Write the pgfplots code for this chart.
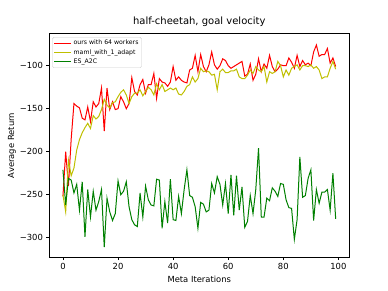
\documentclass[border=0pt]{standalone}
\usepackage{pgfplots}
\pgfplotsset{compat=1.18}
\usepackage{pgfplotstable}
\usepackage{fontspec}
\setmainfont{DejaVu Sans}
\definecolor{mred}{RGB}{255,0,0}
\definecolor{myel}{RGB}{191,191,0}
\definecolor{mgreen}{RGB}{0,128,0}

\pgfplotstableread{
x y
0 -252
1 -200
2 -240
3 -185
4 -144
5 -147
6 -149
7 -161
8 -163
9 -148
10 -165
11 -142
12 -148
13 -144
14 -126
15 -176
16 -126
17 -151
18 -142
19 -151
20 -150
21 -136
22 -142
23 -150
24 -144
25 -114
26 -130
27 -134
28 -122
29 -116
30 -132
31 -122
32 -122
33 -109
34 -138
35 -115
36 -119
37 -120
38 -124
39 -119
40 -101
41 -117
42 -113
43 -117
44 -119
45 -120
46 -105
47 -103
48 -88
49 -107
50 -87
51 -101
52 -107
53 -99
54 -84
55 -99
56 -104
57 -100
58 -92
59 -94
60 -100
61 -103
62 -101
63 -99
64 -97
65 -95
66 -112
67 -110
68 -98
69 -117
70 -110
71 -92
72 -107
73 -98
74 -103
75 -88
76 -101
77 -107
78 -104
79 -99
80 -100
81 -100
82 -91
83 -96
84 -103
85 -88
86 -101
87 -94
88 -99
89 -97
90 -100
91 -84
92 -76
93 -89
94 -87
95 -87
96 -80
97 -97
98 -91
99 -101
}\ours

\pgfplotstableread{
x y
0 -250
1 -270
2 -210
3 -228
4 -219
5 -198
6 -186
7 -178
8 -172
9 -167
10 -173
11 -158
12 -162
13 -159
14 -151
15 -139
16 -146
17 -149
18 -143
19 -142
20 -136
21 -131
22 -128
23 -134
24 -144
25 -136
26 -132
27 -132
28 -128
29 -135
30 -130
31 -125
32 -128
33 -134
34 -121
35 -128
36 -122
37 -130
38 -128
39 -126
40 -128
41 -126
42 -133
43 -134
44 -130
45 -124
46 -122
47 -113
48 -119
49 -115
50 -103
51 -107
52 -106
53 -107
54 -111
55 -110
56 -128
57 -107
58 -104
59 -108
60 -108
61 -106
62 -106
63 -104
64 -113
65 -115
66 -115
67 -111
68 -105
69 -109
70 -101
71 -105
72 -107
73 -101
74 -119
75 -107
76 -109
77 -107
78 -95
79 -100
80 -113
81 -105
82 -111
83 -103
84 -101
85 -99
86 -105
87 -100
88 -100
89 -101
90 -99
91 -103
92 -101
93 -105
94 -115
95 -113
96 -113
97 -103
98 -95
99 -104
}\maml

\pgfplotstableread{
x y
0 -221
1 -262
2 -231
3 -233
4 -248
5 -238
6 -268
7 -235
8 -299
9 -244
10 -276
11 -246
12 -268
13 -258
14 -244
15 -311
16 -254
17 -270
18 -280
19 -272
20 -234
21 -250
22 -246
23 -235
24 -264
25 -279
26 -285
27 -287
28 -248
29 -276
30 -240
31 -256
32 -262
33 -263
34 -232
35 -233
36 -289
37 -258
38 -283
39 -232
40 -279
41 -280
42 -252
43 -272
44 -244
45 -221
46 -251
47 -253
48 -264
49 -289
50 -259
51 -261
52 -270
53 -268
54 -237
55 -248
56 -229
57 -238
58 -262
59 -237
60 -272
61 -227
62 -274
63 -228
64 -268
65 -241
66 -288
67 -281
68 -251
69 -272
70 -244
71 -196
72 -276
73 -276
74 -254
75 -257
76 -242
77 -246
78 -252
79 -237
80 -238
81 -256
82 -265
83 -266
84 -302
85 -279
86 -206
87 -253
88 -251
89 -231
90 -221
91 -280
92 -244
93 -260
94 -247
95 -247
96 -244
97 -268
98 -225
99 -278
}\esac

\begin{document}
\begin{tikzpicture}
\useasboundingbox (-49.3pt,-32.7pt) rectangle (338.7pt,257.3pt);
\begin{axis}[
  at={(0,0)}, anchor=south west,
  scale only axis, width=300pt, height=223.6pt,
  xmin=-4.95, xmax=103.95, ymin=-322.8, ymax=-62.8,
  xtick={0,20,40,60,80,100},
  ytick={-300,-250,-200,-150,-100},
  yticklabels={−300,−250,−200,−150,−100},
  tick pos=left, tick align=outside,
  major tick length=2.9pt,
  every tick/.style={black, line width=0.6pt},
  axis line style={black, line width=0.6pt},
  /pgf/number format/assume math mode=true,
  ticklabel style={font=\fontsize{8.4}{10}\selectfont},
  xlabel={Meta Iterations}, ylabel={Average Return},
  label style={font=\fontsize{8.4}{10}\selectfont},
  xlabel style={yshift=1pt},
  ylabel style={yshift=-3pt},
  title={half-cheetah, goal velocity},
  title style={font=\fontsize{10}{12}\selectfont, yshift=-2pt},
  legend style={at={(0.01,0.985)}, anchor=north west,
    font=\fontsize{6.2}{7}\selectfont, draw=black!20, rounded corners=1.5pt,
    inner sep=1pt, row sep=-1pt},
  legend cell align=left,
  legend image post style={line width=1.1pt},
]
\addplot[mred, line width=1pt] table[x=x,y=y] {\ours};
\addlegendentry{ours with 64 workers}
\addplot[myel, line width=1pt] table[x=x,y=y] {\maml};
\addlegendentry{maml\_with\_1\_adapt}
\addplot[mgreen, line width=1pt] table[x=x,y=y] {\esac};
\addlegendentry{ES\_A2C}
\end{axis}
\end{tikzpicture}
\end{document}
